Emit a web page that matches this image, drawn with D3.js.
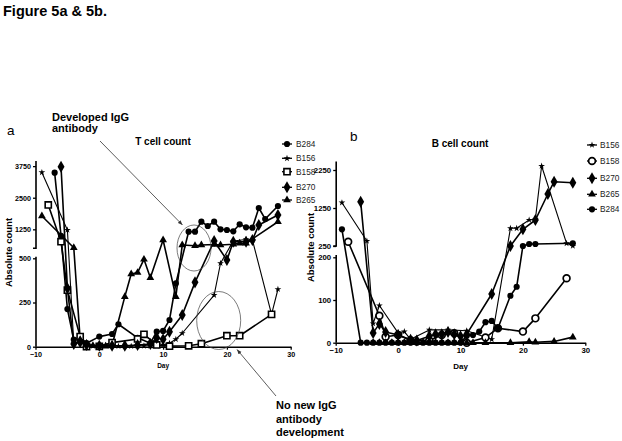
<!DOCTYPE html>
<html><head><meta charset="utf-8">
<script src="https://cdn.jsdelivr.net/npm/d3@7"></script>
<style>
body{margin:0;background:#fff}
svg{display:block}
text{font-family:Arial,"Liberation Sans",Helvetica,sans-serif}
</style>
</head><body>
<svg id="c" width="622" height="441"></svg>
<script>
// ---------- DATA ----------
const dayTicks = [-10, 0, 10, 20, 30];
const aLowTicks = [0, 250, 500];
const aUpTicks = [1250, 2500, 3750];
const bLowTicks = [0, 100, 200];
const bUpTicks = [250, 1250, 2250];

// Panel a : T cell count
const aB284Day = [-7,-6,-5,-4,-3,-2,0,2,3,6,8,9,10,11,12,14,15,16,17,18,19,20,21,22,23,24,25,26,28];
const aB284Val = [3490,990,213,40,55,20,57,72,127,50,20,85,89,151,358,1157,1157,1552,1382,1552,1252,1224,1172,1449,1330,1315,2094,1660,2173];
const aB156Day = [-9,-5,-4,-3,-2,-1,0,1,2,3,4,5,6,7,8,9,10,11,12,13,18,19,21,23,24,27,28];
const aB156Val = [3500,1224,19,30,10,5,5,8,5,3,3,3,5,5,5,5,10,20,42,76,292,472,790,850,828,183,325];
const aB158Day = [-8,-6,-5,-3,-2,0,2,6,7,9,11,14,16,20,22,27];
const aB158Val = [2213,761,320,57,0,2,23,44,70,10,3,5,17,62,62,183];
const aB270Day = [-6,-5,-4,-3,-2,0,2,4,6,8,9,10,11,13,15,18,20,21,23,24,25,28];
const aB270Val = [3728,330,15,25,10,5,5,5,10,15,50,42,85,179,364,790,490,760,760,830,1420,1817];
const aB265Day = [-9,-4,-3,-2,-1,0,1,2,4,5,6,7,8,10,12,13,15,16,18,19,21,22,23,28];
const aB265Val = [1778,520,40,15,5,3,3,8,283,411,419,494,390,828,283,630,600,630,650,630,660,700,700,1550];

// Panel b : B cell count
const bB156Day = [-9,-5,-4,-3,0,1,2,5,8,11,15,18,19,21,22,23,27,28];
const bB156Val = [1390,382,45,87,23,26,8,30,30,28,8,716,716,934,952,2355,320,250];
const bB158Day = [-8,-3,-2,0,2,5,7,9,11,14,16,20,22,27];
const bB158Val = [363,63,14,18,6,5,18,22,0,12,34,26,57,151];
const bB270Day = [-6,-4,-3,-2,0,2,3,5,6,7,8,9,10,11,15,18,20,22,24,25,28];
const bB270Val = [1416,23,44,25,18,7,5,15,20,20,25,20,15,20,114,250,690,934,1618,1942,1916];
const bB265Day = [-4,-3,-2,-1,0,1,2,3,4,5,6,7,8,9,10,11,12,14,18,21,22,25,28];
const bB265Val = [0,0,0,0,0,0,0,0,0,0,0,0,0,0,0,0,0,0,0,2,1,3,13];
const bB284Day = [-9,-6,-5,-4,-3,-2,-1,0,1,2,3,4,5,6,7,8,9,10,11,12,13,14,15,16,18,19,20,21,22,28];
const bB284Val = [689,0,0,0,0,0,0,0,0,0,0,0,0,0,0,0,0,0,16,18,26,48,51,34,110,131,250,303,303,321];

// ---------- DRAW ----------
const svg = d3.select("#c");
const zip = (ds, vs) => ds.map((d, i) => ({day: d, v: vs[i]}));
const fmt = d3.format("d");

const symType = {
  circle: {t: d3.symbolCircle, s: 30, fill: "#000", sw: 0},
  star: {t: d3.symbolStar, s: 14, fill: "#000", sw: 0},
  square: {t: d3.symbolSquare, s: 38, fill: "#fff", sw: 1.6},
  diamond: {t: d3.symbolDiamond, s: 42, fill: "#000", sw: 0},
  triangle: {t: d3.symbolTriangle, s: 26, fill: "#000", sw: 0},
  ocircle: {t: d3.symbolCircle, s: 36, fill: "#fff", sw: 1.7}
};
function drawSym(g, kind, x, y) {
  const st = symType[kind];
  g.append("path").attr("d", d3.symbol().type(st.t).size(st.s)())
    .attr("transform", `translate(${x},${y})`)
    .attr("fill", st.fill).attr("stroke", "#000").attr("stroke-width", st.sw);
}

svg.append("text").attr("x", 3).attr("y", 16).attr("font-size", 14.5)
  .attr("font-weight", "bold").text("Figure 5a & 5b.");

function panel(cfg) {
  const g = svg.append("g");
  const x = d3.scaleLinear().domain([-10, 30]).range(cfg.xr);
  const yLo = d3.scaleLinear().domain(cfg.loD).range(cfg.loR);
  const yUp = d3.scaleLinear().domain(cfg.upD).range(cfg.upR);
  const y = v => v <= cfg.split ? yLo(v) : yUp(v);
  const ax = cfg.xr[0] + 0.5;

  // axes
  const xa = g.append("g").attr("transform", `translate(0,${cfg.loR[0]})`)
    .call(d3.axisBottom(x).tickValues(dayTicks).tickFormat(fmt).tickSize(3).tickSizeOuter(0).tickPadding(2));
  const ylo = g.append("g").attr("transform", `translate(${ax},0)`)
    .call(d3.axisLeft(yLo).tickValues(cfg.loTicks).tickFormat(fmt).tickSize(3).tickSizeOuter(0).tickPadding(2));
  const yup = g.append("g").attr("transform", `translate(${ax},0)`)
    .call(d3.axisLeft(yUp).tickValues(cfg.upTicks).tickFormat(fmt).tickSize(3).tickSizeOuter(0).tickPadding(2));
  ylo.select(".domain").attr("d", `M0,${cfg.loR[0]}V${cfg.loTop}`);
  yup.select(".domain").attr("d", `M-3,${cfg.upR[0]}H0V${cfg.upTop}`);
  [xa, ylo, yup].forEach(a => {
    a.select(".domain").attr("stroke-width", 1.6);
    a.selectAll(".tick line").attr("stroke-width", 1.3);
    a.selectAll("text").attr("font-size", cfg.tickFs).attr("font-weight", "bold")
      .attr("font-family", "Arial, 'Liberation Sans', sans-serif").attr("fill", "#000");
  });

  // series
  const line = d3.line().x(d => x(d.day)).y(d => y(d.v));
  cfg.series.forEach(s => {
    const data = zip(s.days, s.vals);
    g.append("path").attr("d", line(data)).attr("fill", "none")
      .attr("stroke", "#000").attr("stroke-width", s.kind === "star" ? 1.1 : 1.6)
      .attr("stroke-linejoin", "round");
  });
  cfg.series.forEach(s => {
    const data = zip(s.days, s.vals);
    data.forEach(d => drawSym(g, s.kind, x(d.day), y(d.v)));
  });

  // titles
  g.append("text").attr("x", cfg.label[0]).attr("y", cfg.label[1]).attr("font-size", 13.5).text(cfg.labelText);
  g.append("text").attr("x", cfg.title[0]).attr("y", cfg.title[1]).attr("text-anchor", "middle")
    .attr("font-size", 10).attr("font-weight", "bold").text(cfg.titleText);
  g.append("text").attr("transform", `translate(${cfg.ylab[0]},${cfg.ylab[1]}) rotate(-90)`)
    .attr("text-anchor", "middle").attr("font-size", 9.5).attr("font-weight", "bold").text("Absolute count");
  g.append("text").attr("x", x(10)).attr("y", cfg.dayY).attr("text-anchor", "middle")
    .attr("font-size", cfg.dayFs).attr("font-weight", "bold").text("Day");

  // legend
  cfg.legend.forEach((L, i) => {
    const ly = cfg.legY[i];
    g.append("line").attr("x1", cfg.legX - 5).attr("x2", cfg.legX + 5).attr("y1", ly).attr("y2", ly)
      .attr("stroke", "#000").attr("stroke-width", 1.3);
    drawSym(g, L.kind, cfg.legX, ly);
    g.append("text").attr("x", cfg.legTx).attr("y", ly + 2.8).attr("font-size", 8.3)
      .attr("fill", "#222").text(L.name);
  });
  return {x, y};
}

const A = panel({
  xr: [35.5, 290.7], loD: [0, 500], loR: [346.7, 258.3], upD: [500, 4000], upR: [248.3, 159.8],
  split: 505, loTop: 256.7, upTop: 161, loTicks: aLowTicks, upTicks: aUpTicks, tickFs: 7.2,
  series: [
    {kind: "circle", days: aB284Day, vals: aB284Val},
    {kind: "star", days: aB156Day, vals: aB156Val},
    {kind: "square", days: aB158Day, vals: aB158Val},
    {kind: "diamond", days: aB270Day, vals: aB270Val},
    {kind: "triangle", days: aB265Day, vals: aB265Val}
  ],
  label: [7, 135], labelText: "a", title: [163, 145], titleText: "T cell count",
  ylab: [11.5, 252.5], dayY: 368, dayFs: 6.5,
  legend: [{kind: "circle", name: "B284"}, {kind: "star", name: "B156"}, {kind: "square", name: "B158"},
           {kind: "diamond", name: "B270"}, {kind: "triangle", name: "B265"}],
  legX: 287, legTx: 296, legY: [144, 158.3, 171.7, 187.3, 200]
});

const B = panel({
  xr: [335.7, 585.3], loD: [0, 200], loR: [342.7, 257.3], upD: [250, 2500], upR: [246, 160.5],
  split: 220, loTop: 255, upTop: 161.5, loTicks: bLowTicks, upTicks: bUpTicks, tickFs: 7.8,
  series: [
    {kind: "star", days: bB156Day, vals: bB156Val},
    {kind: "ocircle", days: bB158Day, vals: bB158Val},
    {kind: "diamond", days: bB270Day, vals: bB270Val},
    {kind: "triangle", days: bB265Day, vals: bB265Val},
    {kind: "circle", days: bB284Day, vals: bB284Val}
  ],
  label: [350, 140.5], labelText: "b", title: [460, 146.5], titleText: "B cell count",
  ylab: [313.5, 247.5], dayY: 369, dayFs: 8,
  legend: [{kind: "star", name: "B156"}, {kind: "ocircle", name: "B158"}, {kind: "diamond", name: "B270"},
           {kind: "triangle", name: "B265"}, {kind: "circle", name: "B284"}],
  legX: 592, legTx: 600, legY: [145, 161, 178.3, 194.3, 209.3]
});

// ---------- ANNOTATIONS ----------
const defs = svg.append("defs");
defs.append("marker").attr("id", "ah").attr("viewBox", "0 0 10 10").attr("refX", 10).attr("refY", 5)
  .attr("markerWidth", 6).attr("markerHeight", 6).attr("orient", "auto")
  .append("path").attr("d", "M0,1L10,5L0,9z").attr("fill", "#333");

const ann = svg.append("g");
ann.append("text").attr("x", 52).attr("y", 121).attr("font-size", 11).attr("font-weight", "bold").text("Developed IgG");
ann.append("text").attr("x", 52).attr("y", 132).attr("font-size", 11).attr("font-weight", "bold").text("antibody");
ann.append("line").attr("x1", 100).attr("y1", 141).attr("x2", 182.5).attr("y2", 225)
  .attr("stroke", "#333").attr("stroke-width", 0.8).attr("marker-end", "url(#ah)");
ann.append("ellipse").attr("cx", 194).attr("cy", 248).attr("rx", 17).attr("ry", 23)
  .attr("fill", "none").attr("stroke", "#444").attr("stroke-width", 0.7);
ann.append("ellipse").attr("cx", 218.7).attr("cy", 320.5).attr("rx", 22).attr("ry", 29)
  .attr("fill", "none").attr("stroke", "#444").attr("stroke-width", 0.7);
ann.append("line").attr("x1", 276).attr("y1", 396).attr("x2", 237).attr("y2", 349.5)
  .attr("stroke", "#333").attr("stroke-width", 0.8).attr("marker-end", "url(#ah)");
["No new IgG", "antibody", "development"].forEach((t, i) => {
  ann.append("text").attr("x", 276).attr("y", 409 + i * 13.5).attr("font-size", 11)
    .attr("font-weight", "bold").text(t);
});
</script>
</body></html>
